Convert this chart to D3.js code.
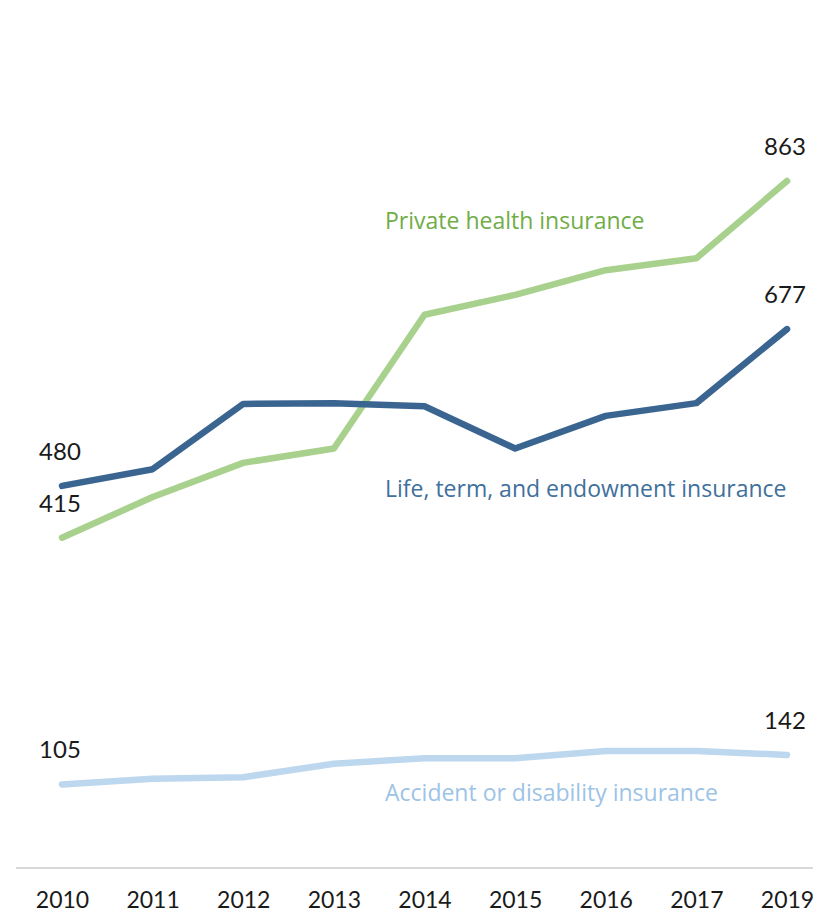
<!DOCTYPE html>
<html>
<head>
<meta charset="utf-8">
<script src="https://cdn.jsdelivr.net/npm/d3@7"></script>
<style>
  html, body { margin: 0; padding: 0; background: #fff; }
  svg { display: block; font-family: Lato, "Open Sans", sans-serif; }
</style>
</head>
<body>
<svg id="chart" width="813" height="913"></svg>
<script>
// Years shown on the axis (2018 is not reported)
const years = ["2010", "2011", "2012", "2013", "2014", "2015", "2016", "2017", "2019"];

// Series values
const lifeValues = [480, 501, 583, 584, 580, 527, 568, 584, 677];
const healthValues = [415, 466, 509, 527, 695, 720, 751, 766, 863];
const accidentValues = [105, 112, 114, 131, 138, 138, 147, 147, 142];

const seriesNames = [
  "Life, term, and endowment insurance",
  "Private health insurance",
  "Accident or disability insurance"
];

const series = [
  { name: seriesNames[1], values: healthValues, line: "#a9d18e", text: "#70ad47", labelAt: 229 },
  { name: seriesNames[0], values: lifeValues, line: "#3b6591", text: "#41709c", labelAt: 497 },
  { name: seriesNames[2], values: accidentValues, line: "#bdd7ee", text: "#9dc3e6", labelAt: 801 }
];

const svg = d3.select("#chart");

const x = d3.scalePoint().domain(years).range([62, 787]);
const y = d3.scaleLinear().domain([0, 1000]).range([868, 72]);

// Baseline axis with year labels
const axis = d3.axisBottom(x).tickSize(0).tickPadding(0);
const gAxis = svg.append("g").attr("transform", "translate(0,868)").call(axis);
gAxis.select(".domain").remove();
gAxis.selectAll("text")
  .attr("dy", null)
  .attr("y", 40)
  .attr("fill", "#1a1a1a")
  .style("font-size", "23px")
  .style("font-family", "Lato, sans-serif");
svg.append("line")
  .attr("x1", 16).attr("x2", 813)
  .attr("y1", 868).attr("y2", 868)
  .attr("stroke", "#d9d9d9")
  .attr("stroke-width", 2);

const line = d3.line()
  .x((d, i) => x(years[i]))
  .y(d => y(d));

// Accident first, then health, then life on top
const drawOrder = [series[2], series[0], series[1]];
svg.append("g").selectAll("path")
  .data(drawOrder)
  .join("path")
  .attr("d", d => line(d.values))
  .attr("fill", "none")
  .attr("stroke", d => d.line)
  .attr("stroke-width", 6.5)
  .attr("stroke-linejoin", "round")
  .attr("stroke-linecap", "round");

// End-point value labels
const endLabels = [];
series.forEach(s => {
  endLabels.push({ v: s.values[0], x: x(years[0]) });
  endLabels.push({ v: s.values[s.values.length - 1], x: x(years[years.length - 1]) });
});
svg.append("g").selectAll("text")
  .data(endLabels)
  .join("text")
  .attr("x", d => d.x - 2)
  .attr("y", d => y(d.v) - 26)
  .attr("text-anchor", "middle")
  .attr("fill", "#1a1a1a")
  .style("font-size", "24px")
  .text(d => d.v);

// Series name labels
svg.append("g").selectAll("text")
  .data(series)
  .join("text")
  .attr("x", 385)
  .attr("y", d => d.labelAt)
  .attr("fill", d => d.text)
  .style("font-family", "'Open Sans', sans-serif")
  .style("font-size", "23px")
  .text(d => d.name);
</script>
</body>
</html>
